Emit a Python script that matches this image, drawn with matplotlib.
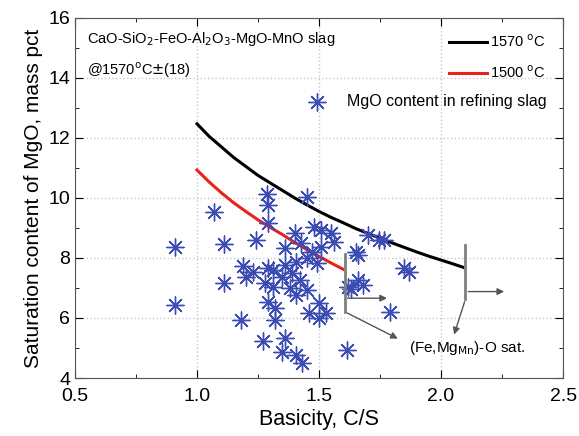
import matplotlib
matplotlib.use('Agg')
import matplotlib.pyplot as plt

plt.rcParams['font.family'] = ['Liberation Sans', 'DejaVu Sans']

# measured MgO content in refining slag (basicity C/S, MgO mass pct)
basicity = [0.91, 0.91, 1.07, 1.11, 1.11, 1.24, 1.285, 1.29, 1.29, 1.45,
            1.19, 1.20, 1.23, 1.29, 1.31, 1.28, 1.31, 1.29, 1.32, 1.32,
            1.18, 1.27, 1.36, 1.35, 1.405, 1.43, 1.40, 1.36, 1.425, 1.48,
            1.51, 1.55, 1.56, 1.51, 1.47, 1.45, 1.405, 1.36, 1.49, 1.39,
            1.35, 1.42, 1.38, 1.405, 1.45, 1.50, 1.46, 1.50, 1.53, 1.65,
            1.66, 1.70, 1.745, 1.765, 1.62, 1.66, 1.68, 1.79, 1.85, 1.87,
            1.615, 1.63]
mgo = [8.38, 6.43, 9.53, 8.47, 7.18, 8.6, 10.13, 9.77, 9.16, 10.02,
       7.73, 7.38, 7.54, 7.66, 7.6, 7.16, 7.04, 6.54, 6.32, 5.93,
       5.93, 5.24, 5.32, 4.88, 4.77, 4.51, 8.82, 8.32, 8.49, 9.04,
       8.93, 8.82, 8.54, 8.38, 8.21, 7.99, 7.88, 7.77, 7.82, 7.49,
       7.38, 7.27, 6.99, 6.77, 6.93, 6.49, 6.16, 5.99, 6.16, 8.21,
       8.1, 8.77, 8.6, 8.6, 7.04, 7.27, 7.1, 6.21, 7.66, 7.54,
       4.93, 6.95]

# saturation curves
cs_1570 = [1.0, 1.05, 1.1, 1.15, 1.2, 1.25, 1.3, 1.35, 1.4, 1.45, 1.5, 1.55,
           1.6, 1.65, 1.7, 1.75, 1.8, 1.85, 1.9, 1.95, 2.0, 2.05, 2.09]
sat_1570 = [12.47, 12.05, 11.7, 11.35, 11.05, 10.75, 10.5, 10.25, 10.0, 9.77, 9.55, 9.35,
            9.17, 8.98, 8.82, 8.65, 8.5, 8.35, 8.2, 8.06, 7.93, 7.8, 7.69]
cs_1500 = [1.0, 1.05, 1.1, 1.15, 1.2, 1.25, 1.3, 1.35, 1.4, 1.45, 1.5, 1.55, 1.6]
sat_1500 = [10.93, 10.53, 10.17, 9.84, 9.55, 9.27, 9.02, 8.78, 8.52, 8.28, 8.05, 7.83, 7.62]

blue = '#3b4cb3'
gray = '#7f7f7f'

fig = plt.figure(figsize=(5.79, 4.36), dpi=100)
ax = fig.add_axes([0.1295, 0.133, 0.843, 0.826])

l1, = ax.plot(cs_1570, sat_1570, color='black', lw=2.2, label='1570 $^{\\rm o}$C')
l2, = ax.plot(cs_1500, sat_1500, color='#e8221b', lw=2.2, label='1500 $^{\\rm o}$C')
sc = ax.scatter(basicity, mgo, marker=(8, 2, 0), s=150, color=blue, linewidths=1.0,
                label='MgO content in refining slag', zorder=3)

# (Fe,Mg)O saturation limits
for x0, ylo, yhi, yarr, xend, tip in [(1.605, 6.21, 8.13, 6.66, 1.79, (1.833, 5.27)),
                                      (2.1, 6.63, 8.43, 6.88, 2.27, (2.05, 5.36))]:
    ax.plot([x0, x0], [ylo, yhi], color=gray, lw=2, zorder=4)
    ax.annotate('', xy=(xend, yarr), xytext=(x0, yarr),
                arrowprops=dict(arrowstyle='-|>', color='#555555', lw=1, mutation_scale=10))
    ax.annotate('', xy=tip, xytext=(x0, ylo),
                arrowprops=dict(arrowstyle='-|>', color='#555555', lw=1, mutation_scale=10))
ax.text(1.87, 4.99, '(Fe,Mg$_{\\rm Mn}$)-O sat.', fontsize=11, va='center')

ax.text(0.55, 15.3, 'CaO-SiO$_2$-FeO-Al$_2$O$_3$-MgO-MnO slag', fontsize=10.5, va='center')
ax.text(0.55, 14.25, '@1570$^{\\rm o}$C$\\pm$(18)', fontsize=10.5, va='center')

leg1 = ax.legend(handles=[l1, l2], loc='upper right', bbox_to_anchor=(0.985, 0.985),
                 frameon=False, fontsize=10.5, handlelength=2.6, handletextpad=0.2,
                 borderaxespad=0.3, labelspacing=1.0)
ax.add_artist(leg1)
ax.legend(handles=[sc], loc='upper right', bbox_to_anchor=(0.99, 0.82), frameon=False,
          fontsize=11.5, handletextpad=0.9, borderaxespad=0.3)

ax.set_xlim(0.5, 2.5)
ax.set_ylim(4, 16)
ax.set_xticks([0.5, 1.0, 1.5, 2.0, 2.5])
ax.set_xticks([0.75, 1.25, 1.75, 2.25], minor=True)
ax.set_yticks([4, 6, 8, 10, 12, 14, 16])
ax.set_yticks([5, 7, 9, 11, 13, 15], minor=True)
ax.tick_params(which='both', direction='in', top=True, right=True, labelsize=14)
ax.tick_params(axis='x', pad=7)
ax.tick_params(which='major', length=6)
ax.tick_params(which='minor', length=3)
ax.grid(True, which='major', linestyle=':', color='#c8c8c8', lw=1)
for s in ax.spines.values():
    s.set_color('#555555')

ax.set_xlabel('Basicity, C/S', fontsize=15.5, labelpad=3)
ax.set_ylabel('Saturation content of MgO, mass pct', fontsize=15, labelpad=4)

fig.savefig('out.png', dpi=100)
